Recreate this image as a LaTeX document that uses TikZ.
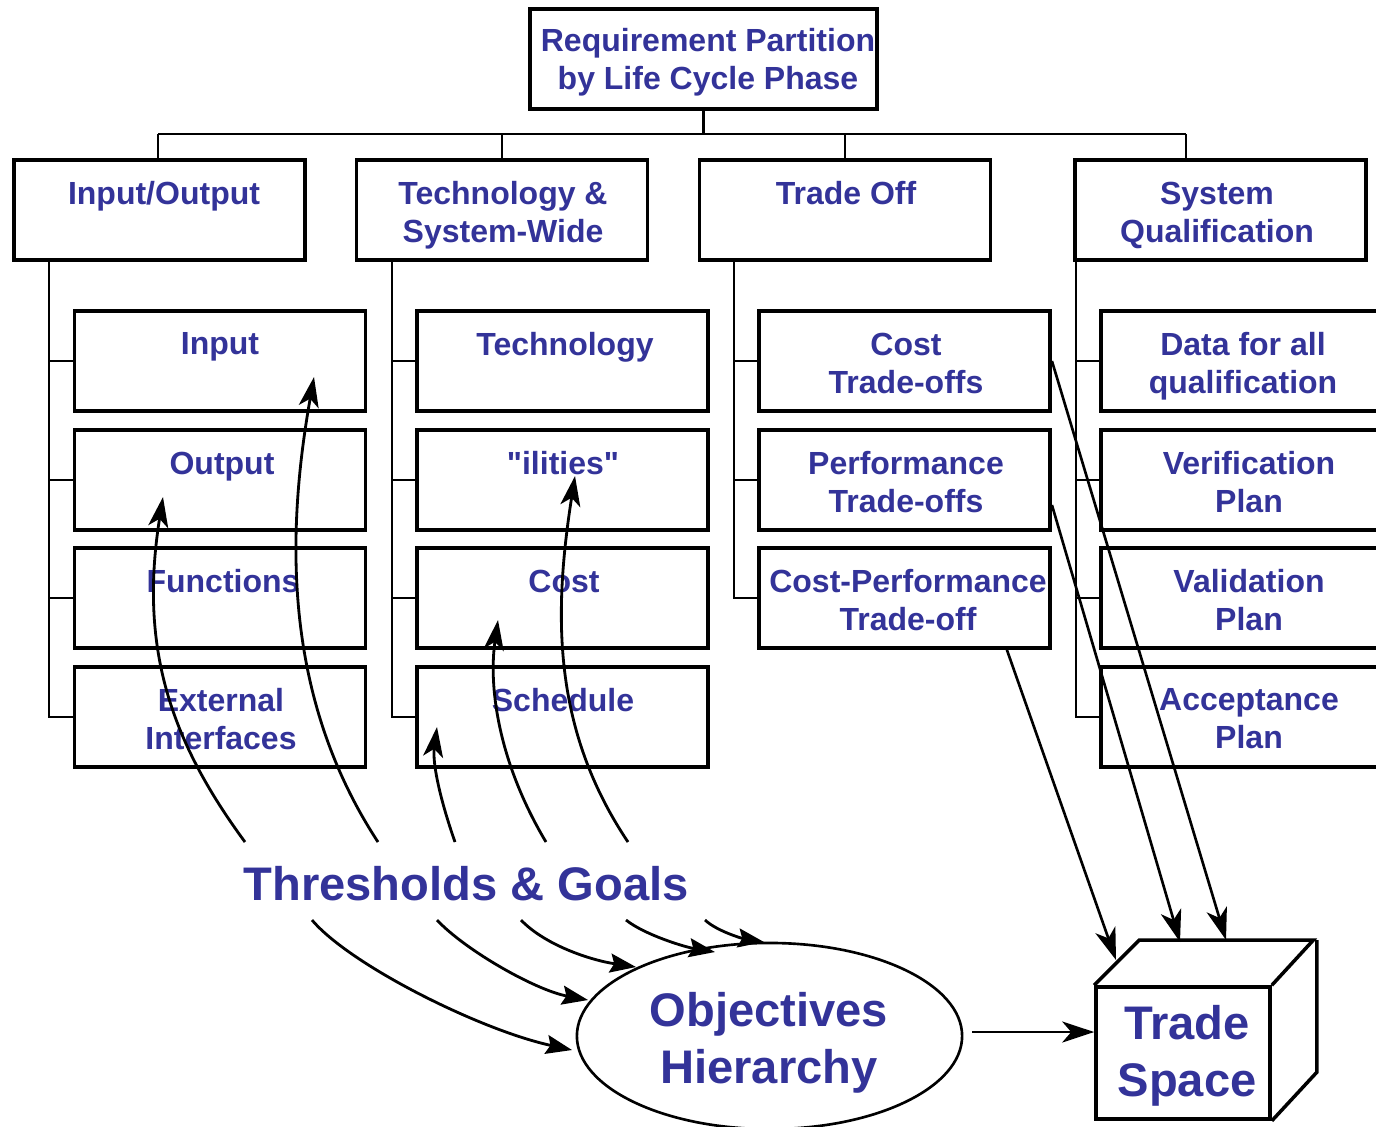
\documentclass[tikz,border=0pt]{standalone}
\usepackage{fontspec}
\setmainfont{Liberation Sans}[Ligatures=TeXOff]
\usetikzlibrary{arrows.meta,shapes.geometric}
\definecolor{tblue}{RGB}{51,51,153}
\begin{document}
\begin{tikzpicture}[x=0.01cm,y=-0.01cm,
 box/.style={draw, line width=1.05pt, minimum width=2.91cm, minimum height=1cm, inner sep=0pt},
 lbl/.style={text=tblue, font=\bfseries\fontsize{9.1pt}{10.8pt}\selectfont, align=center, inner sep=0pt, anchor=north},
 big/.style={text=tblue, font=\bfseries\fontsize{13.4pt}{16.2pt}\selectfont, align=center, inner sep=0pt},
 tree/.style={line width=0.6pt},
 upar/.style={line width=0.8pt, -{Stealth[length=0.3cm,width=0.2cm,inset=0.08cm]}},
 dnar/.style={line width=0.8pt, -{Stealth[length=0.26cm,width=0.19cm,inset=0.04cm]}},
 cubear/.style={line width=0.75pt, -{Stealth[length=0.32cm,width=0.21cm,inset=0.09cm]}},
]
\clip (0,0) rectangle (1376,1126);
\fill[white] (0,0) rectangle (1376,1126);

% top box
\node[box, minimum width=3.47cm] (top) at (703.5,59) {};
\node[lbl] (ttop) at (708,28) {Requirement Partition\\by Life Cycle Phase};

% level 1
\node[box] (io) at (159.5,210) {};
\node[box] (tw) at (502,210) {};
\node[box] (to) at (845,210) {};
\node[box] (sq) at (1220.5,210) {};
\node[lbl] (tio) at (164,181) {Input/Output};
\node[lbl] (ttw) at (503,181) {Technology \&\\System-Wide};
\node[lbl] (tto) at (846,181) {Trade Off};
\node[lbl] (tsq) at (1217,181) {System\\Qualification};

% bus
\coordinate (busL) at (158,134);
\coordinate (busR) at (1186,134);
\draw[tree] (top.south) -- (top.south |- busL);
\draw[tree] (busL) -- (busR);
\draw[tree] (busL) -- (busL |- io.north);
\draw[tree] (tw.north |- busL) -- (tw.north);
\draw[tree] (to.north |- busL) -- (to.north);
\draw[tree] (busR) -- (busR |- sq.north);

% level 2 column 1
\node[box] (in)  at (220,361) {};
\node[box] (out) at (220,480) {};
\node[box] (fun) at (220,598) {};
\node[box] (ext) at (220,717) {};
\node[lbl] (tin)  at (220,332) {Input};
\node[lbl] (tout) at (222,451) {Output};
\node[lbl] (tfun) at (223,569) {Functions};
\node[lbl] (text) at (221,688) {External\\Interfaces};
% column 2
\node[box] (tec) at (562.5,361) {};
\node[box] (ili) at (562.5,480) {};
\node[box] (cst) at (562.5,598) {};
\node[box] (sch) at (562.5,717) {};
\node[lbl] (ttec) at (565,332) {Technology};
\node[lbl] (tili) at (563,451) {"ilities"};
\node[lbl] (tcst) at (564,569) {Cost};
\node[lbl] (tsch) at (563,688) {Schedule};
% column 3
\node[box] (ctr) at (904.5,361) {};
\node[box] (ptr) at (904.5,480) {};
\node[box] (cpt) at (904.5,598) {};
\node[lbl] (tctr) at (906,332) {Cost\\Trade-offs};
\node[lbl] (tptr) at (906,451) {Performance\\Trade-offs};
\node[lbl] (tcpt) at (908,569) {Cost-Performance\\Trade-off};
% column 4
\node[box] (dat) at (1246.5,361) {};
\node[box] (ver) at (1246.5,480) {};
\node[box] (val) at (1246.5,598) {};
\node[box] (acc) at (1246.5,717) {};
\node[lbl] (tdat) at (1243,332) {Data for all\\qualification};
\node[lbl] (tver) at (1249,451) {Verification\\Plan};
\node[lbl] (tval) at (1249,569) {Validation\\Plan};
\node[lbl] (tacc) at (1249,688) {Acceptance\\Plan};

% spines
\coordinate (s1) at (49,260);
\coordinate (s2) at (392,260);
\coordinate (s3) at (734,260);
\coordinate (s4) at (1076,260);
\draw[tree] (s1) |- (ext.west);
\draw[tree] (s1 |- in.west) -- (in.west);
\draw[tree] (s1 |- out.west) -- (out.west);
\draw[tree] (s1 |- fun.west) -- (fun.west);
\draw[tree] (s2) |- (sch.west);
\draw[tree] (s2 |- tec.west) -- (tec.west);
\draw[tree] (s2 |- ili.west) -- (ili.west);
\draw[tree] (s2 |- cst.west) -- (cst.west);
\draw[tree] (s3) |- (cpt.west);
\draw[tree] (s3 |- ctr.west) -- (ctr.west);
\draw[tree] (s3 |- ptr.west) -- (ptr.west);
\draw[tree] (s4) |- (acc.west);
\draw[tree] (s4 |- dat.west) -- (dat.west);
\draw[tree] (s4 |- ver.west) -- (ver.west);
\draw[tree] (s4 |- val.west) -- (val.west);

% thresholds
\node[big] (thr) at (466,884) {Thresholds \& Goals};

% objectives ellipse
\node[draw, ellipse, line width=0.75pt, minimum width=3.85cm, minimum height=1.86cm, inner sep=0pt] (obj) at (769.5,1036) {};
\node[big] (tobj) at (769,1043) {Objectives\\Hierarchy};

% trade space cube
\node[draw, line width=1pt, minimum width=1.74cm, minimum height=1.32cm, inner sep=0pt] (ts) at (1183,1053) {};
\draw[line width=1pt, line join=miter] (ts.north west) -- ++(45,-45) -- ++(174,0) -- (ts.north east);
\draw[line width=1pt, line join=miter] (ts.north east) ++(45,-45) -- ++(0,132) -- (ts.south east);
\node[big] (tts) at (1187,1056) {Trade\\Space};

% up arrows
\coordinate (u1) at (245,842);  \coordinate (e1) at (163,497);
\coordinate (u2) at (378,842);  \coordinate (e2) at (314,377);
\coordinate (u3) at (455,842);  \coordinate (e3) at (437,727);
\coordinate (u4) at (546,842);  \coordinate (e4) at (498,620);
\coordinate (u5) at (628,842);  \coordinate (e5) at (575,476);
\draw[upar] (u1) .. controls (170,740) and (139,647) .. (e1);
\draw[upar] (u2) .. controls (285,700) and (285,540) .. (e2);
\draw[upar] (u3) .. controls (442,805) and (432,765) .. (e3);
\draw[upar] (u4) .. controls (500,765) and (488,690) .. (e4);
\draw[upar] (u5) .. controls (553,730) and (553,616) .. (e5);

% down arrows
\coordinate (d1) at (312,920);  \coordinate (f1) at (572,1050);
\coordinate (d2) at (437,920);  \coordinate (f2) at (588,1000);
\coordinate (d3) at (521,920);  \coordinate (f3) at (636,967);
\coordinate (d4) at (626,920);  \coordinate (f4) at (715,952);
\coordinate (d5) at (705,920);  \coordinate (f5) at (764,942);
\draw[dnar] (d1) .. controls (350,965) and (480,1030) .. (f1);
\draw[dnar] (d2) .. controls (465,950) and (535,990) .. (f2);
\draw[dnar] (d3) .. controls (545,945) and (590,960) .. (f3);
\draw[dnar] (d4) .. controls (645,935) and (685,947) .. (f4);
\draw[dnar] (d5) .. controls (718,932) and (745,939) .. (f5);

% arrows to cube
\coordinate (g1) at (1116,960);
\coordinate (g2) at (1180,942);
\coordinate (g3) at (1226,940);
\draw[cubear] ([xshift=-0.45cm]cpt.south east) -- (g1);
\draw[cubear] ([yshift=-0.25cm]ptr.east) -- (g2);
\draw[cubear] (ctr.east) -- (g3);
\coordinate (ha) at (972,1032);
\draw[cubear] (ha) -- (ha -| ts.west);
\end{tikzpicture}
\end{document}
